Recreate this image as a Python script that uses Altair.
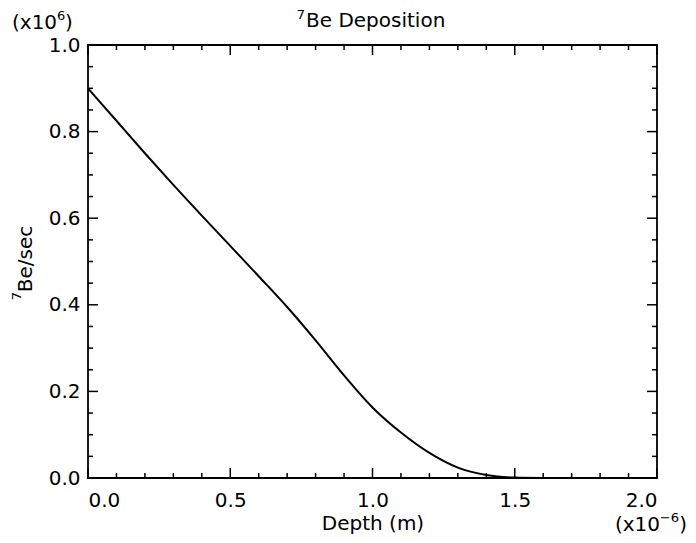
import altair as alt
import pandas as pd

# Data (depth in 1e-6 m, rate in 1e6 7Be/sec)
depth = [0.0, 0.1, 0.2, 0.3, 0.4, 0.5, 0.6, 0.7, 0.8, 0.9, 1.0, 1.1, 1.2, 1.3, 1.4, 1.5, 1.6]
rate = [0.900, 0.825, 0.750, 0.677, 0.606, 0.536, 0.466, 0.395, 0.318, 0.237, 0.163,
        0.105, 0.058, 0.024, 0.007, 0.001, 0.0]

x_major = [0.0, 0.5, 1.0, 1.5, 2.0]
x_minor = [0.1, 0.2, 0.3, 0.4, 0.6, 0.7, 0.8, 0.9, 1.1, 1.2, 1.3, 1.4, 1.6, 1.7, 1.8, 1.9]
y_major = [0.0, 0.2, 0.4, 0.6, 0.8, 1.0]
y_minor = [0.05, 0.1, 0.15, 0.25, 0.3, 0.35, 0.45, 0.5, 0.55, 0.65, 0.7, 0.75, 0.85, 0.9, 0.95]

x_title = "Depth (m)"
# texts with superscripts, drawn as pieces
title_sup, title_main = "7", "Be Deposition"
ytitle_sup, ytitle_main = "7", "Be/sec"
ymul_a, ymul_sup, ymul_b = "(x10", "6", ")"
xmul_a, xmul_sup, xmul_b = "(x10", "−6", ")"

W, H = 569, 433
FONT = "DejaVu Sans"
FS = 20
SS = 13
MAJ, MIN = 10, 5

xs = alt.Scale(domain=[0, 2], nice=False)
ys = alt.Scale(domain=[0, 1], nice=False)

df = pd.DataFrame({"depth": depth, "rate": rate})

line = alt.Chart(df).mark_line(color="black", strokeWidth=2, interpolate="monotone").encode(
    x=alt.X("depth:Q", scale=xs,
            axis=alt.Axis(title=x_title, values=x_major, format=".1f", ticks=False,
                          domain=False, grid=False, labelPadding=12, titlePadding=3)),
    y=alt.Y("rate:Q", scale=ys,
            axis=alt.Axis(title=None, values=y_major, format=".1f", ticks=False,
                          domain=False, grid=False, labelPadding=8)),
)

xmaj = pd.DataFrame({"v": x_major})
xmin = pd.DataFrame({"v": x_minor})
ymaj = pd.DataFrame({"v": y_major})
ymin = pd.DataFrame({"v": y_minor})

def xticks(d, L):
    b = alt.Chart(d).mark_rule(color="black", strokeWidth=1.5).encode(
        x=alt.X("v:Q", scale=xs), y=alt.value(H), y2=alt.value(H - L))
    t = alt.Chart(d).mark_rule(color="black", strokeWidth=1.5).encode(
        x=alt.X("v:Q", scale=xs), y=alt.value(0), y2=alt.value(L))
    return b + t

def yticks(d, L):
    l = alt.Chart(d).mark_rule(color="black", strokeWidth=1.5).encode(
        y=alt.Y("v:Q", scale=ys), x=alt.value(0), x2=alt.value(L))
    r = alt.Chart(d).mark_rule(color="black", strokeWidth=1.5).encode(
        y=alt.Y("v:Q", scale=ys), x=alt.value(W), x2=alt.value(W - L))
    return l + r

def txt(s, x, y, size=FS, align="left", angle=0):
    return alt.Chart(pd.DataFrame({"t": [s]})).mark_text(
        font=FONT, fontSize=size, align=align, baseline="alphabetic",
        color="black", angle=angle
    ).encode(text="t:N", x=alt.value(x), y=alt.value(y))

texts = [
    # title
    txt(title_main, 218, -18),
    txt(title_sup, 217, -26, SS, "right"),
    # y multiplier (x10^6)
    txt(ymul_a, -76, -16),
    txt(ymul_sup, -31, -25, SS),
    txt(ymul_b, -23, -16),
    # x multiplier (x10^-6)
    txt(xmul_b, 599, 486, FS, "right"),
    txt(xmul_sup, 591, 477, SS, "right"),
    txt(xmul_a, 572, 486, FS, "right"),
    # y title, rotated
    txt(ytitle_main, -56, 214, FS, "center", 270),
    txt(ytitle_sup, -67, 251, SS, "center", 270),
]

chart = alt.layer(
    line,
    xticks(xmaj, MAJ), xticks(xmin, MIN),
    yticks(ymaj, MAJ), yticks(ymin, MIN),
    *texts,
).properties(
    width=W, height=H,
    background="white",
    autosize=alt.AutoSizeParams(type="none"),
    padding={"left": 80, "top": 37, "right": 31, "bottom": 57},
).configure_view(
    stroke="black", strokeWidth=1.8
).configure_axis(
    labelFont=FONT, labelFontSize=FS, labelColor="black",
    titleFont=FONT, titleFontSize=FS, titleFontWeight="normal", titleColor="black",
)

chart.save("out.html", embed_options={"renderer": "svg", "actions": False})
